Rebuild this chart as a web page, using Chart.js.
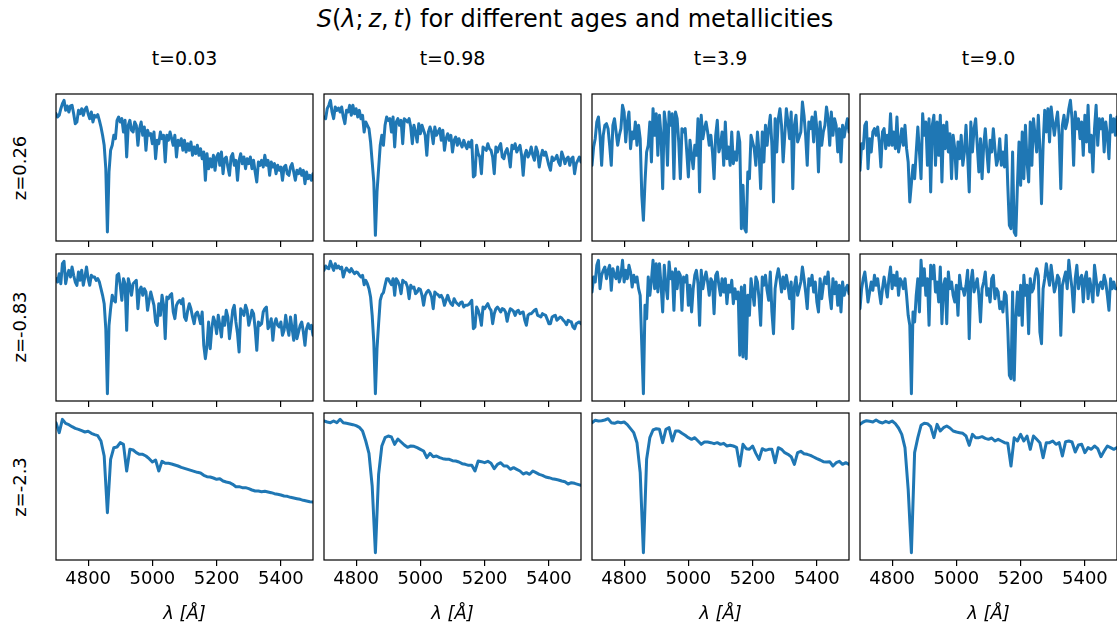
<!DOCTYPE html>
<html>
<head>
<meta charset="utf-8">
<script src="https://cdn.jsdelivr.net/npm/chart.js@4.4.1/dist/chart.umd.min.js"></script>
<style>
  body { margin: 0; width: 1117px; height: 629px; background: #fff; position: relative; overflow: hidden; font-family: "DejaVu Sans", sans-serif; color: #000; }
  .txt { position: absolute; white-space: nowrap; line-height: 1; transform: translate(-50%, -50%); }
  .rot { transform: translate(-50%, -50%) rotate(-90deg); }
  .panel { position: absolute; }
</style>
</head>
<body>
<div class="txt" id="suptitle" style="left:575px; top:19px; font-size:24px;"><i>S</i>(<i>λ</i>;&thinsp;<i>z</i>,&thinsp;<i>t</i>) for different ages and metallicities</div>
<div id="labels"></div>
<div id="panels"></div>

<script>
// wavelength grids (Angstrom): 5 A for the noisy spectra, 10 A for the smooth low-z row
const wavelength = [
  4700, 4705, 4710, 4715, 4720, 4725, 4730, 4735, 4740, 4745,
  4750, 4755, 4760, 4765, 4770, 4775, 4780, 4785, 4790, 4795,
  4800, 4805, 4810, 4815, 4820, 4825, 4830, 4835, 4840, 4845,
  4850, 4855, 4860, 4865, 4870, 4875, 4880, 4885, 4890, 4895,
  4900, 4905, 4910, 4915, 4920, 4925, 4930, 4935, 4940, 4945,
  4950, 4955, 4960, 4965, 4970, 4975, 4980, 4985, 4990, 4995,
  5000, 5005, 5010, 5015, 5020, 5025, 5030, 5035, 5040, 5045,
  5050, 5055, 5060, 5065, 5070, 5075, 5080, 5085, 5090, 5095,
  5100, 5105, 5110, 5115, 5120, 5125, 5130, 5135, 5140, 5145,
  5150, 5155, 5160, 5165, 5170, 5175, 5180, 5185, 5190, 5195,
  5200, 5205, 5210, 5215, 5220, 5225, 5230, 5235, 5240, 5245,
  5250, 5255, 5260, 5265, 5270, 5275, 5280, 5285, 5290, 5295,
  5300, 5305, 5310, 5315, 5320, 5325, 5330, 5335, 5340, 5345,
  5350, 5355, 5360, 5365, 5370, 5375, 5380, 5385, 5390, 5395,
  5400, 5405, 5410, 5415, 5420, 5425, 5430, 5435, 5440, 5445,
  5450, 5455, 5460, 5465, 5470, 5475, 5480, 5485, 5490, 5495,
  5500
];
const wavelengthCoarse = [
  4700, 4710, 4720, 4730, 4740, 4750, 4760, 4770, 4780, 4790,
  4800, 4810, 4820, 4830, 4840, 4850, 4860, 4870, 4880, 4890,
  4900, 4910, 4920, 4930, 4940, 4950, 4960, 4970, 4980, 4990,
  5000, 5010, 5020, 5030, 5040, 5050, 5060, 5070, 5080, 5090,
  5100, 5110, 5120, 5130, 5140, 5150, 5160, 5170, 5180, 5190,
  5200, 5210, 5220, 5230, 5240, 5250, 5260, 5270, 5280, 5290,
  5300, 5310, 5320, 5330, 5340, 5350, 5360, 5370, 5380, 5390,
  5400, 5410, 5420, 5430, 5440, 5450, 5460, 5470, 5480, 5490,
  5500
];

const ages = ['t=0.03', 't=0.98', 't=3.9', 't=9.0'];
const metallicities = ['z=0.26', 'z=-0.83', 'z=-2.3'];
const tickValues = [4800, 5000, 5200, 5400];

// S(lambda; z, t), arbitrary flux units
const flux_z026_t003 = [
  382, 372, 377, 397, 412, 422, 392, 405, 387, 405,
  407, 382, 352, 357, 392, 382, 397, 377, 395, 402,
  382, 367, 387, 357, 377, 372, 379, 362, 342, 317,
  287, 217, 27, 207, 272, 287, 317, 307, 362, 372,
  357, 367, 327, 362, 252, 347, 362, 332, 327, 357,
  347, 287, 337, 357, 317, 342, 272, 332, 317, 322,
  292, 327, 247, 302, 292, 327, 307, 317, 237, 317,
  302, 327, 307, 287, 317, 252, 302, 287, 307, 272,
  302, 267, 292, 272, 297, 257, 282, 262, 287, 257,
  277, 247, 267, 182, 262, 217, 247, 222, 257, 212,
  252, 262, 227, 267, 202, 247, 252, 222, 197, 252,
  262, 227, 242, 182, 242, 262, 232, 252, 217, 247,
  232, 252, 217, 242, 207, 177, 237, 227, 242, 222,
  257, 227, 242, 197, 237, 222, 232, 202, 227, 212,
  222, 182, 222, 227, 202, 197, 222, 232, 207, 182,
  212, 202, 217, 197, 212, 172, 207, 187, 197, 182,
  202
];
const flux_z026_t098 = [
  372, 367, 397, 407, 422, 387, 367, 402, 392, 399,
  387, 402, 372, 352, 392, 387, 407, 377, 407, 382,
  397, 372, 392, 367, 377, 327, 357, 347, 337, 297,
  237, 177, 17, 147, 217, 287, 317, 287, 347, 372,
  362, 367, 327, 372, 282, 357, 367, 347, 362, 292,
  367, 362, 357, 367, 342, 292, 347, 327, 297, 352,
  322, 347, 332, 317, 257, 327, 342, 327, 292, 342,
  317, 327, 337, 302, 332, 272, 307, 322, 302, 317,
  267, 302, 312, 287, 307, 292, 282, 302, 287, 277,
  297, 282, 302, 192, 197, 287, 262, 252, 202, 282,
  277, 272, 292, 277, 272, 252, 202, 282, 267, 282,
  292, 252, 247, 267, 277, 257, 222, 287, 277, 292,
  267, 277, 287, 257, 197, 257, 272, 252, 262, 282,
  257, 242, 282, 267, 222, 252, 272, 257, 267, 247,
  227, 212, 252, 242, 247, 257, 237, 227, 267, 252,
  232, 247, 252, 227, 247, 252, 202, 232, 242, 252,
  237
];
const flux_z026_t39 = [
  227, 282, 307, 357, 372, 317, 227, 317, 347, 352,
  337, 287, 227, 347, 367, 327, 287, 317, 337, 407,
  387, 297, 357, 387, 277, 327, 307, 357, 287, 347,
  307, 137, 62, 177, 267, 287, 357, 237, 397, 317,
  382, 257, 377, 317, 157, 387, 347, 227, 387, 347,
  382, 187, 387, 367, 297, 187, 337, 327, 337, 267,
  192, 302, 257, 217, 287, 257, 367, 147, 377, 307,
  337, 357, 327, 287, 317, 267, 187, 317, 362, 267,
  287, 327, 227, 357, 247, 282, 227, 327, 232, 267,
  242, 327, 297, 37, 167, 37, 27, 207, 187, 317,
  297, 277, 227, 327, 267, 157, 327, 237, 347, 287,
  337, 377, 287, 117, 367, 267, 367, 397, 347, 237,
  317, 397, 357, 307, 387, 157, 347, 377, 297, 312,
  327, 417, 377, 317, 227, 357, 337, 372, 297, 387,
  337, 207, 357, 287, 327, 347, 402, 367, 287, 387,
  317, 367, 347, 267, 337, 237, 347, 312, 342, 367,
  327
];
const flux_z026_t90 = [
  212, 292, 277, 347, 357, 217, 307, 267, 327, 337,
  317, 342, 297, 222, 327, 337, 277, 317, 287, 382,
  287, 327, 277, 372, 267, 297, 337, 287, 347, 277,
  237, 117, 172, 227, 187, 267, 342, 267, 187, 382,
  317, 357, 227, 367, 147, 347, 377, 227, 357, 257,
  377, 177, 347, 277, 357, 267, 322, 187, 317, 277,
  187, 297, 247, 317, 227, 267, 347, 257, 147, 357,
  267, 337, 367, 287, 207, 307, 187, 287, 337, 267,
  207, 302, 267, 337, 277, 227, 247, 307, 227, 267,
  222, 317, 167, 47, 37, 267, 27, 17, 167, 297,
  167, 327, 187, 347, 237, 177, 357, 227, 367, 317,
  267, 377, 277, 112, 287, 392, 327, 397, 297, 402,
  357, 317, 357, 387, 317, 157, 347, 377, 337, 357,
  397, 422, 367, 227, 387, 337, 367, 307, 357, 257,
  377, 297, 407, 267, 317, 207, 337, 407, 287, 367,
  337, 367, 267, 357, 317, 247, 377, 327, 367, 317,
  372
];
const flux_zm083_t003 = [
  367, 357, 382, 352, 412, 419, 352, 377, 392, 372,
  402, 377, 357, 347, 387, 362, 392, 347, 372, 402,
  367, 347, 377, 372, 372, 362, 367, 357, 337, 317,
  292, 217, 22, 227, 277, 317, 302, 297, 377, 382,
  347, 302, 367, 352, 212, 367, 347, 317, 352, 357,
  362, 277, 332, 342, 317, 337, 327, 272, 302, 327,
  307, 287, 237, 227, 292, 257, 317, 287, 187, 312,
  307, 317, 322, 267, 247, 287, 297, 302, 292, 307,
  252, 242, 272, 292, 277, 252, 232, 262, 267, 252,
  232, 267, 167, 127, 167, 237, 157, 217, 252, 237,
  202, 257, 227, 192, 252, 227, 272, 252, 187, 227,
  272, 287, 237, 202, 147, 277, 267, 257, 287, 272,
  227, 247, 272, 262, 217, 152, 237, 227, 232, 267,
  277, 282, 217, 227, 247, 182, 232, 247, 227, 222,
  237, 197, 212, 257, 222, 197, 252, 217, 182, 257,
  187, 207, 227, 237, 207, 167, 217, 232, 217, 227,
  197
];
const flux_zm083_t098 = [
  392, 405, 399, 397, 419, 405, 392, 412, 399, 405,
  397, 402, 372, 389, 399, 392, 387, 397, 389, 382,
  387, 385, 377, 372, 377, 349, 362, 352, 337, 312,
  257, 177, 22, 157, 232, 302, 319, 325, 347, 367,
  367, 357, 349, 367, 317, 367, 359, 347, 322, 362,
  357, 355, 342, 307, 347, 339, 342, 322, 327, 337,
  335, 317, 287, 317, 327, 332, 325, 312, 277, 327,
  322, 319, 312, 317, 307, 287, 302, 317, 302, 292,
  287, 307, 297, 292, 287, 295, 297, 282, 287, 287,
  289, 295, 302, 217, 222, 282, 272, 255, 227, 282,
  277, 285, 292, 279, 272, 232, 262, 277, 282, 275,
  267, 277, 275, 267, 239, 262, 277, 274, 269, 257,
  269, 272, 262, 265, 267, 242, 227, 257, 262, 262,
  267, 272, 275, 257, 255, 252, 262, 259, 257, 245,
  232, 232, 252, 255, 257, 242, 247, 252, 249, 242,
  237, 229, 242, 239, 237, 222, 217, 232, 235, 237,
  232
];
const flux_zm083_t39 = [
  327, 372, 357, 407, 422, 337, 377, 392, 402, 367,
  392, 407, 332, 397, 377, 367, 402, 357, 377, 422,
  357, 392, 367, 407, 387, 342, 377, 357, 372, 337,
  317, 167, 22, 287, 247, 372, 317, 362, 422, 337,
  412, 327, 412, 347, 267, 407, 347, 307, 417, 367,
  387, 272, 397, 337, 387, 377, 272, 372, 357, 377,
  287, 347, 267, 337, 377, 392, 352, 227, 392, 337,
  367, 387, 357, 317, 367, 357, 262, 377, 387, 347,
  317, 367, 327, 367, 292, 347, 327, 362, 292, 337,
  307, 327, 137, 342, 132, 347, 127, 317, 257, 367,
  327, 287, 372, 357, 307, 227, 372, 347, 377, 332,
  302, 387, 267, 202, 337, 372, 397, 367, 327, 372,
  337, 377, 347, 307, 357, 217, 342, 372, 317, 337,
  357, 402, 367, 327, 277, 367, 347, 377, 327, 357,
  297, 267, 367, 307, 347, 372, 352, 387, 317, 277,
  367, 322, 357, 287, 347, 267, 357, 317, 337, 347,
  322
];
const flux_zm083_t90 = [
  277, 337, 367, 387, 347, 297, 327, 357, 332, 377,
  347, 367, 327, 292, 337, 372, 342, 312, 367, 402,
  337, 377, 347, 387, 317, 367, 357, 337, 367, 317,
  257, 227, 22, 267, 237, 317, 367, 267, 422, 347,
  397, 317, 367, 227, 407, 367, 407, 327, 357, 297,
  402, 232, 347, 367, 232, 387, 337, 357, 317, 297,
  347, 257, 377, 337, 337, 317, 347, 392, 187, 357,
  392, 327, 347, 367, 317, 237, 337, 357, 387, 317,
  337, 297, 367, 377, 307, 337, 327, 277, 297, 267,
  327, 317, 217, 77, 67, 327, 62, 247, 327, 257,
  347, 227, 377, 317, 347, 202, 367, 327, 337, 377,
  397, 377, 207, 172, 337, 367, 412, 377, 347, 407,
  367, 327, 347, 377, 367, 197, 347, 367, 387, 337,
  422, 377, 337, 267, 367, 407, 337, 367, 377, 297,
  367, 387, 307, 367, 337, 297, 407, 367, 317, 347,
  357, 337, 377, 357, 317, 272, 367, 337, 357, 337,
  337
];
const flux_zm23_t003 = [
  412, 382, 422, 410, 406, 400, 395, 392, 388, 384,
  386, 380, 376, 373, 357, 312, 142, 302, 337, 339,
  352, 347, 267, 332, 330, 322, 317, 317, 312, 304,
  294, 300, 267, 296, 290, 290, 288, 285, 282, 278,
  275, 272, 269, 266, 263, 261, 254, 250, 249, 246,
  242, 244, 237, 234, 232, 227, 220, 220, 217, 217,
  214, 210, 207, 207, 205, 206, 204, 202, 199, 197,
  195, 192, 191, 188, 186, 184, 182, 179, 177, 175,
  174
];
const flux_zm23_t098 = [
  417, 414, 412, 417, 412, 422, 412, 410, 408, 406,
  403, 398, 387, 357, 320, 222, 22, 257, 342, 367,
  372, 369, 347, 363, 354, 345, 338, 342, 341, 337,
  332, 327, 307, 320, 310, 312, 307, 304, 302, 302,
  298, 297, 294, 289, 287, 284, 284, 267, 297, 295,
  292, 296, 290, 274, 287, 292, 282, 282, 272, 277,
  272, 267, 258, 262, 257, 267, 262, 257, 254, 249,
  247, 244, 242, 240, 237, 235, 228, 232, 230, 227,
  224
];
const flux_zm23_t39 = [
  412, 419, 417, 418, 420, 424, 412, 410, 414, 412,
  414, 406, 394, 382, 352, 262, 22, 302, 367, 390,
  394, 392, 352, 392, 397, 357, 387, 387, 380, 374,
  367, 362, 367, 357, 347, 354, 354, 352, 349, 352,
  347, 350, 342, 344, 342, 338, 282, 347, 334, 332,
  342, 320, 302, 334, 329, 332, 332, 292, 337, 332,
  322, 317, 310, 287, 322, 326, 319, 317, 314, 309,
  304, 300, 295, 294, 295, 282, 292, 296, 287, 292,
  287
];
const flux_zm23_t90 = [
  407, 414, 418, 416, 414, 420, 414, 411, 416, 412,
  417, 409, 396, 377, 337, 212, 22, 322, 367, 404,
  410, 409, 400, 367, 407, 387, 397, 402, 396, 387,
  384, 382, 380, 372, 344, 377, 367, 367, 370, 365,
  362, 366, 357, 362, 357, 352, 350, 282, 367, 357,
  377, 357, 372, 332, 372, 362, 352, 307, 352, 352,
  357, 347, 352, 312, 355, 357, 354, 324, 345, 347,
  322, 337, 332, 342, 334, 310, 327, 342, 337, 332,
  337
];

const grid = [
  [flux_z026_t003, flux_z026_t098, flux_z026_t39, flux_z026_t90],
  [flux_zm083_t003, flux_zm083_t098, flux_zm083_t39, flux_zm083_t90],
  [flux_zm23_t003, flux_zm23_t098, flux_zm23_t39, flux_zm23_t90]
];

// layout of the subplot grid
const colLeft = [56, 324, 592, 860];
const rowTop = [94, 253.5, 413];
const panelW = 257;
const panelH = 147;
const pad = 3;
const fluxMax = 441;

const labels = document.getElementById('labels');
ages.forEach((a, c) => {
  const d = document.createElement('div');
  d.className = 'txt';
  d.style.cssText = `left:${colLeft[c] + panelW / 2}px; top:58px; font-size:19px;`;
  d.textContent = a;
  labels.appendChild(d);
});
metallicities.forEach((m, r) => {
  const d = document.createElement('div');
  d.className = 'txt rot';
  d.style.cssText = `left:20px; top:${rowTop[r] + panelH / 2}px; font-size:18px;`;
  d.textContent = m;
  labels.appendChild(d);
});

// black box around each axes, drawn over the line like matplotlib spines
const frame = {
  id: 'frame',
  afterDatasetsDraw(chart) {
    const { ctx, chartArea: a } = chart;
    ctx.save();
    ctx.strokeStyle = '#000';
    ctx.lineWidth = 1.2;
    ctx.strokeRect(a.left, a.top, a.right - a.left, a.bottom - a.top);
    ctx.restore();
  }
};

const holder = document.getElementById('panels');
grid.forEach((row, r) => {
  row.forEach((series, c) => {
    const isBottom = r === grid.length - 1;
    const xs = series.length === wavelength.length ? wavelength : wavelengthCoarse;
    const axisH = isBottom ? 66 : 8;
    const w = panelW + 2 * pad;
    const h = pad + panelH + axisH;

    const box = document.createElement('div');
    box.className = 'panel';
    box.style.left = (colLeft[c] - pad) + 'px';
    box.style.top = (rowTop[r] - pad) + 'px';
    box.style.width = w + 'px';
    box.style.height = h + 'px';
    const cv = document.createElement('canvas');
    cv.width = w;
    cv.height = h;
    cv.style.width = w + 'px';
    cv.style.height = h + 'px';
    box.appendChild(cv);
    holder.appendChild(box);

    new Chart(cv, {
      type: 'line',
      data: {
        datasets: [{
          data: xs.map((x, i) => ({ x: x, y: series[i] })),
          borderColor: '#1f77b4',
          borderWidth: 3,
          pointRadius: 0,
          tension: 0,
          fill: false,
          borderJoinStyle: 'round',
          borderCapStyle: 'round'
        }]
      },
      options: {
        responsive: false,
        animation: false,
        events: [],
        layout: { padding: { left: pad, right: pad, top: pad, bottom: 0 } },
        plugins: { legend: { display: false }, tooltip: { enabled: false } },
        scales: {
          x: {
            type: 'linear',
            min: 4700,
            max: 5500,
            afterBuildTicks: s => { s.ticks = tickValues.map(v => ({ value: v })); },
            afterFit: s => { s.height = axisH; },
            grid: { display: true, drawOnChartArea: false, drawTicks: true, tickLength: 6, color: '#000', lineWidth: 1.2 },
            border: { display: false },
            ticks: {
              display: isBottom,
              color: '#000',
              font: { family: 'DejaVu Sans', size: 18 },
              padding: 3,
              maxRotation: 0,
              autoSkip: false,
              callback: v => String(v)
            },
            title: {
              display: isBottom,
              text: 'λ [Å]',
              color: '#000',
              font: { family: 'DejaVu Sans', size: 18, style: 'italic' },
              padding: { top: 0, bottom: 1 }
            }
          },
          y: { display: false, min: 0, max: fluxMax }
        }
      },
      plugins: [frame]
    });
  });
});
</script>
</body>
</html>
